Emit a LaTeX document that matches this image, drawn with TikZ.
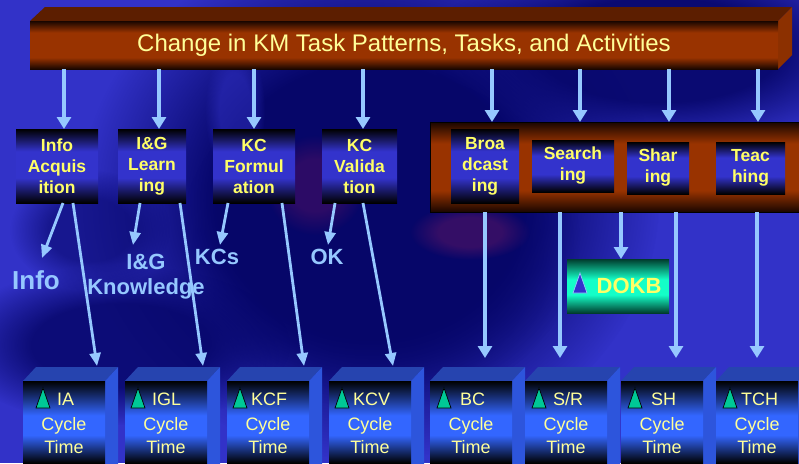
\documentclass[tikz,border=0pt]{standalone}
\usepackage{fontspec}
\setmainfont{Liberation Sans}
\usetikzlibrary{arrows.meta,fadings}
\definecolor{bgblue}{RGB}{50,50,200}
\definecolor{navyc}{RGB}{6,6,105}
\definecolor{purp}{RGB}{70,15,100}
\definecolor{magc}{RGB}{110,25,100}
\definecolor{arrowc}{RGB}{150,200,255}
\definecolor{brn}{RGB}{153,51,0}
\definecolor{brndark}{RGB}{25,6,0}
\definecolor{brntop}{RGB}{92,30,0}
\definecolor{brnside}{RGB}{140,48,0}
\definecolor{boxblue}{RGB}{51,51,204}
\definecolor{cubeblue}{RGB}{51,102,255}
\definecolor{cubetop}{RGB}{38,68,175}
\definecolor{cubeside}{RGB}{45,85,220}
\definecolor{ytext}{RGB}{255,255,102}
\definecolor{ltext}{RGB}{255,255,153}
\definecolor{lblue}{RGB}{150,200,255}
\definecolor{tealc}{RGB}{20,255,200}
\definecolor{tealdark}{RGB}{0,60,45}
\definecolor{grn}{RGB}{0,200,150}
\pgfdeclareverticalshading{barsh}{100bp}{color(0bp)=(brndark); color(25bp)=(brndark); color(37bp)=(brn); color(63bp)=(brn); color(75bp)=(brndark); color(100bp)=(brndark)}
\pgfdeclareverticalshading{boxsh}{100bp}{color(0bp)=(black); color(25bp)=(black); color(42bp)=(boxblue); color(60bp)=(boxblue); color(75bp)=(black); color(100bp)=(black)}
\pgfdeclareverticalshading{cubesh}{100bp}{color(0bp)=(black); color(25bp)=(black); color(42bp)=(cubeblue); color(54bp)=(cubeblue); color(75bp)=(black); color(100bp)=(black)}
\pgfdeclareverticalshading{tealsh}{100bp}{color(0bp)=(tealdark); color(25bp)=(tealdark); color(42bp)=(tealc); color(56bp)=(tealc); color(75bp)=(tealdark); color(100bp)=(tealdark)}
\pgfdeclareradialshading{softblotsh}{\pgfpointorigin}{color(0bp)=(transparent!0); color(13bp)=(transparent!0); color(25bp)=(transparent!100); color(50bp)=(transparent!100)}
\pgfdeclarefading{softblot}{\pgfuseshading{softblotsh}}
\tikzset{
 arr/.style={draw=arrowc, line width=3.5pt, -{Triangle[width=14pt,length=12pt]}},
 darr/.style={draw=arrowc, line width=2.8pt, -{Triangle[width=11pt,length=13pt]}},
 lbox/.style={shading=boxsh, inner sep=0pt, outer sep=0pt, align=center, text=ytext,
   font=\bfseries\fontsize{17.5}{21}\selectfont},
 lbl/.style={text=lblue, font=\bfseries\fontsize{22}{25}\selectfont, align=center, inner sep=0pt},
 cubefront/.style={shading=cubesh, inner sep=0pt, outer sep=0pt, minimum width=82, minimum height=82},
 cubetxt/.style={text=ltext, font=\fontsize{18}{20}\selectfont, inner sep=0pt},
 blot/.style={path fading=softblot},
}
\newcommand\cubebox[5]{%
 \fill[cubetop] (#2,381) -- ++(13,-14) -- ++(82,0) -- ++(-13,14) -- cycle;
 \fill[cubeside] (#2+82,381) -- ++(13,-14) -- ++(0,100) -- ++(-13,0) -- cycle;
 \node[cubefront, anchor=north west] (#1) at (#2,381) {};
 \filldraw[fill=grn, draw=black, line width=0.7pt] ([shift={(#5,27)}]#1.north west) -- ++(7,-20) -- ++(7,20) -- cycle;
 \node[cubetxt, anchor=base west] (#1l) at (#4,405) {#3};
 \node[cubetxt, anchor=base] (#1c) at (#2+41,430) {Cycle};
 \node[cubetxt, anchor=base] (#1t) at (#2+41,453) {Time};
}
\begin{document}
\begin{tikzpicture}[x=1pt,y=-1pt]
\clip (0,0) rectangle (799,463);
% background
\fill[bgblue] (0,0) rectangle (799,463);
\fill[navyc, blot] (370,200) ellipse [x radius=290pt, y radius=260pt];
\fill[navyc, blot, opacity=0.8] (380,240) ellipse [x radius=200pt, y radius=170pt];
\fill[navyc, blot, opacity=0.9] (660,50) ellipse [x radius=230pt, y radius=100pt];
\fill[navyc, blot, opacity=0.85] (120,345) ellipse [x radius=170pt, y radius=80pt];
\fill[navyc, blot, opacity=0.6] (90,230) ellipse [x radius=80pt, y radius=60pt];
\fill[bgblue, blot, opacity=0.5] (235,110) ellipse [x radius=30pt, y radius=70pt];
\fill[purp, blot, opacity=0.6] (315,185) ellipse [x radius=50pt, y radius=50pt];
\fill[magc, blot, opacity=0.45] (470,232) ellipse [x radius=60pt, y radius=28pt];

% title bar
\fill[brntop] (30,21) -- (45,7) -- (792,7) -- (778,21) -- cycle;
\fill[brnside] (778,21) -- (792,7) -- (792,55) -- (778,69) -- cycle;
\node[shading=barsh, minimum width=748, minimum height=48, inner sep=0pt, outer sep=0pt,
  text=ltext, font=\fontsize{24}{26}\selectfont] (title) at (404,45)
  {Change in KM Task Patterns, Tasks, and Activities};

% left task boxes
\node[lbox, minimum width=82, minimum height=74] (ia) at (57,166) {Info\\Acquis\\ition};
\node[lbox, minimum width=68, minimum height=74] (ig) at (152,166) {I\&G\\Learn\\ing};
\node[lbox, minimum width=82, minimum height=74] (kf) at (254,166) {KC\\Formul\\ation};
\node[lbox, minimum width=75, minimum height=74] (kv) at (359.5,166) {KC\\Valida\\tion};

% right bar
\node[shading=barsh, draw=black, line width=1pt, minimum width=380, minimum height=90,
  inner sep=0pt, outer sep=0pt, anchor=north west] (rbar) at (430,122) {};
\node[lbox, minimum width=68, minimum height=74] (bc) at (485,166) {Broa\\dcast\\ing};
\node[lbox, minimum width=82, minimum height=52] (sr) at (573,166) {Search\\ing};
\node[lbox, minimum width=62, minimum height=52] (sh) at (658,168) {Shar\\ing};
\node[lbox, minimum width=69, minimum height=52] (tc) at (750.5,168) {Teac\\hing};

% DOKB
\node[shading=tealsh, minimum width=102, minimum height=54, inner sep=0pt, outer sep=0pt,
  text=ytext, font=\bfseries\fontsize{22}{24}\selectfont] (dokb) at (618,286) {\hspace*{22pt}DOKB};
\filldraw[fill=boxblue, draw=lblue, line width=0.7pt] ([shift={(6,7)}]dokb.west) -- ++(7,-20) -- ++(7,20) -- cycle;

% output labels
\node[lbl, font=\bfseries\fontsize{26}{28}\selectfont] (linfo) at (36,280) {Info};
\node[lbl] (lig) at (146,277) {I\&G\\Knowledge};
\node[lbl] (lkc) at (217,257) {KCs};
\node[lbl] (lok) at (327,257) {OK};

% cubes
\cubebox{cia}{23}{IA}{57}{13}
\cubebox{cig}{125}{IGL}{152}{6}
\cubebox{ckf}{227}{KCF}{251}{6}
\cubebox{ckv}{329}{KCV}{353}{6}
\cubebox{cbc}{430}{BC}{460}{7}
\cubebox{csr}{525}{S/R}{553}{7}
\cubebox{csh}{621}{SH}{651}{7}
\cubebox{ctc}{716}{TCH}{741}{7}

% arrows from title
\coordinate (u1) at ([xshift=7]ia.north);
\coordinate (u2) at ([xshift=7]ig.north);
\coordinate (u3) at (kf.north);
\coordinate (u4) at ([xshift=3.5]kv.north);
\coordinate (u5) at (492,122);
\coordinate (u6) at (580,122);
\coordinate (u7) at (669,122);
\coordinate (u8) at (758,122);
\foreach \u in {u1,u2,u3,u4,u5,u6,u7,u8} \draw[arr] (title.south -| \u) -- (\u);

% short arrows to outputs
\coordinate (s1) at (42,258);
\coordinate (s2) at (133,245);
\coordinate (s3) at (220,245);
\coordinate (s4) at (328,245);
\draw[darr] ([xshift=6]ia.south) -- (s1);
\draw[darr] ([xshift=-12]ig.south) -- (s2);
\draw[darr] ([xshift=-26]kf.south) -- (s3);
\draw[darr] ([xshift=-24.5]kv.south) -- (s4);

% long arrows to cubes
\draw[darr] ([xshift=16]ia.south) -- ([xshift=33,yshift=15]cia.north);
\draw[darr] ([xshift=28]ig.south) -- ([xshift=37,yshift=15]cig.north);
\draw[darr] ([xshift=28]kf.south) -- ([xshift=36,yshift=15]ckf.north);
\draw[darr] ([xshift=3.5]kv.south) -- ([xshift=23,yshift=15]ckv.north);

% arrows from right bar
\coordinate (t5) at ([xshift=14,yshift=23]cbc.north);
\coordinate (t6) at ([xshift=-6,yshift=23]csr.north);
\coordinate (t7) at ([xshift=14,yshift=23]csh.north);
\coordinate (t8) at ([yshift=23]ctc.north);
\foreach \t in {t5,t6,t7,t8} \draw[arr] (rbar.south -| \t) -- (\t);
\coordinate (dk) at ([xshift=3]dokb.north);
\draw[arr] (rbar.south -| dk) -- (dk);
\end{tikzpicture}
\end{document}
